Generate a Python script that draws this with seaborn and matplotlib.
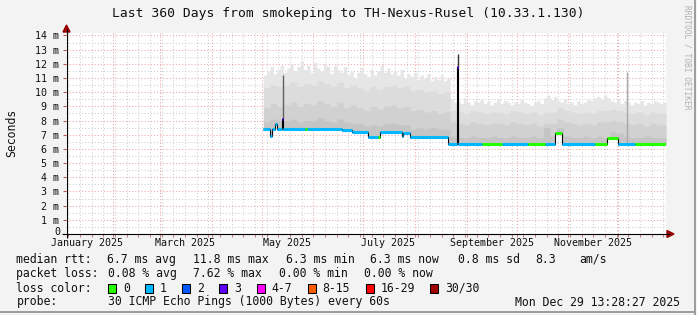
import numpy as np
import pandas as pd
import matplotlib
matplotlib.use("Agg")
import matplotlib.pyplot as plt
import matplotlib.dates as mdates
from matplotlib.lines import Line2D
from matplotlib.patches import Polygon, Rectangle
import seaborn as sns

# ---------------- data ----------------
title = "Last 360 Days from smokeping to TH-Nexus-Rusel (10.33.1.130)"
range_start = pd.Timestamp("2025-01-03 13:28:27")
range_end = pd.Timestamp("2025-12-29 13:28:27")

month_labels = ["January 2025", "March 2025", "May 2025", "July 2025",
                "September 2025", "November 2025"]
month_label_dates = ["2025-01-16", "2025-03-16", "2025-05-16", "2025-07-16",
                     "2025-09-16", "2025-11-16"]

y_ticks = list(range(0, 15))
y_tick_labels = ["0"] + [f"{v} m" for v in range(1, 15)]

# median RTT (ms), piecewise constant segments
seg_start = ["2025-05-02", "2025-05-06", "2025-05-07", "2025-05-09", "2025-05-10",
             "2025-05-13", "2025-05-14", "2025-05-27", "2025-05-28", "2025-06-18",
             "2025-06-24", "2025-07-04", "2025-07-10", "2025-07-11", "2025-07-24",
             "2025-07-25", "2025-07-29", "2025-08-21", "2025-08-26", "2025-08-27",
             "2025-09-10", "2025-09-22", "2025-10-08", "2025-10-18", "2025-10-24",
             "2025-10-28", "2025-11-17", "2025-11-24", "2025-12-01", "2025-12-11"]
seg_median = [7.40, 6.90, 7.40, 7.75, 7.40, 8.10, 7.40, 7.40, 7.40, 7.30,
              7.22, 6.82, 6.82, 7.20, 6.90, 7.15, 6.82, 6.35, 11.80, 6.35,
              6.35, 6.35, 6.35, 6.35, 7.15, 6.35, 6.35, 6.80, 6.35, 6.35]
seg_loss = [1, 1, 1, 1, 1, 3, 1, 0, 1, 1,
            1, 1, 0, 1, 1, 1, 1, 1, 3, 1,
            0, 1, 0, 1, 0, 1, 0, 0, 1, 0]

# smoke top (max ping), 2-day bins starting 2025-05-02 (ms)
smoke_first_bin = "2025-05-02"
smoke_top = [11.2, 11.5, 11.8, 11.3, 11.6, 11.9, 11.4, 11.7, 12.0, 11.5,
             11.8, 12.2, 11.6, 11.9, 11.4, 12.1, 11.7, 11.5, 12.0, 11.8,
             11.3, 11.9, 11.6, 11.4, 11.8, 11.2, 11.5, 11.0, 11.4, 11.7,
             11.3, 11.1, 11.6, 11.2, 11.5, 11.9, 11.4, 11.7, 11.3, 11.5,
             11.2, 11.6, 11.0, 11.3, 11.1, 11.4, 10.9, 11.2, 11.0, 11.3,
             10.8, 11.1, 10.9, 11.2, 10.8, 11.0,
             9.5, 9.3, 9.4, 9.2, 9.6, 9.3, 9.1, 9.4, 9.3, 9.5,
             9.2, 9.4, 9.1, 9.3, 9.5, 9.2, 9.4, 9.3, 9.1, 9.3,
             9.2, 9.5, 9.3, 9.2, 9.0, 9.3, 9.4, 9.2, 9.6, 9.8,
             9.5, 9.7, 9.4, 9.3, 9.5, 9.2, 9.3, 9.1, 9.4, 9.2,
             9.3, 9.5, 9.4, 9.6, 9.7, 9.5, 9.8, 9.6, 9.4, 9.3,
             9.5, 9.2, 9.4, 9.3, 9.1, 9.3, 9.2, 9.4, 9.1, 9.3,
             9.2, 9.4, 9.3, 9.2, 9.3]
# inner smoke layers, 4-day bins starting 2025-05-02 (ms)
smoke_upper = [10.3, 10.5, 10.4, 10.5, 10.7, 10.4, 10.6, 10.5, 10.8, 10.6,
               10.4, 10.7, 10.3, 10.5, 10.3, 10.1, 10.4, 10.2, 10.4, 10.5,
               10.3, 10.4, 10.1, 10.2, 10.0, 10.1, 9.9, 10.0, 8.7, 8.6,
               8.5, 8.7, 8.6, 8.5, 8.6, 8.6, 8.5, 8.7, 8.6, 8.5,
               8.6, 8.4, 8.6, 8.6, 8.9, 8.7, 8.6, 8.5, 8.6, 8.5,
               8.7, 8.7, 8.8, 8.7, 8.6, 8.5, 8.6, 8.4, 8.6, 8.5, 8.5]
smoke_mid = [8.9, 9.2, 9.0, 9.1, 9.3, 9.0, 9.2, 9.1, 9.4, 9.2,
             9.0, 9.3, 8.9, 9.1, 8.9, 8.7, 9.0, 8.8, 9.0, 9.1,
             8.9, 9.0, 8.7, 8.8, 8.6, 8.7, 8.5, 8.6, 7.9, 7.8,
             7.7, 7.9, 7.8, 7.7, 7.8, 7.8, 7.7, 7.9, 7.8, 7.7,
             7.8, 7.6, 7.8, 7.8, 8.1, 7.9, 7.8, 7.7, 7.8, 7.7,
             7.9, 7.9, 8.0, 7.9, 7.8, 7.7, 7.8, 7.6, 7.8, 7.7, 7.7]
smoke_inner = [7.9, 8.1, 8.0, 8.0, 8.1, 7.9, 8.0, 8.0, 8.2, 8.0,
               7.9, 8.1, 7.9, 7.8, 7.8, 7.6, 7.7, 7.6, 7.8, 7.8,
               7.7, 7.7, 7.4, 7.5, 7.4, 7.5, 7.4, 7.4, 6.9, 6.8,
               6.8, 6.9, 6.8, 6.8, 6.9, 6.8, 6.8, 6.9, 6.8, 6.8,
               6.9, 6.8, 7.5, 6.9, 7.5, 6.9, 6.8, 6.8, 6.9, 6.8,
               6.9, 6.8, 7.2, 7.1, 6.9, 6.8, 6.8, 6.9, 6.8, 6.8, 6.8]

# isolated smoke spikes
spike_dates = ["2025-05-13 12:00", "2025-08-26 12:00", "2025-12-06 00:00"]
spike_tops = [11.2, 12.7, 11.4]

loss_labels = ["0", "1", "2", "3", "4-7", "8-15", "16-29", "30/30"]
loss_colors = ["#26ff00", "#00b8ff", "#0059ff", "#5e00ff", "#ff00ff",
               "#ff5e00", "#ff0000", "#a10000"]

legend_row1_items = ["median rtt:", "6.7 ms avg", "11.8 ms max", "6.3 ms min",
                     "6.3 ms now", "0.8 ms sd", "8.3", "am/s"]
legend_row2_items = ["packet loss:", "0.08 % avg", "7.62 % max", "0.00 % min",
                     "0.00 % now"]
legend_row3 = "loss color:"
legend_row4_items = ["probe:", "30 ICMP Echo Pings (1000 Bytes) every 60s"]
timestamp = "Mon Dec 29 13:28:27 2025"

# ---------------- style ----------------
sns.set_theme(style="white")
plt.rcParams["font.family"] = ["DejaVu Sans Mono", "DejaVu Sans"]
plt.rcParams["lines.solid_capstyle"] = "butt"

W, H = 697, 315
def fx(px):
    return px / W
def fy(py):
    return 1 - py / H

BG = "#f3f3f3"
TXT = "#111111"
fig = plt.figure(figsize=(W / 100, H / 100), dpi=100, facecolor=BG)
ax = fig.add_axes([fx(66), fy(234), fx(666) - fx(66), fy(33) - fy(234)])
ax.set_facecolor("white")
for s in ax.spines.values():
    s.set_visible(False)

ax.set_xlim(range_start, range_end)
ax.set_ylim(0, 14.17)

# grid; the "0" label is drawn separately, lifted slightly off the month labels
ax.set_yticks(y_ticks)
ax.set_yticklabels([""] + y_tick_labels[1:], fontsize=7.2, color=TXT)
ax.annotate(y_tick_labels[0], xy=(0, y_ticks[0]), xycoords=("axes fraction", "data"),
            xytext=(-4.3, 1.2), textcoords="offset points", ha="right", va="center",
            fontsize=7.2, color=TXT, annotation_clip=False)
ax.set_yticks(np.arange(0.5, 14.5, 1.0), minor=True)
ax.xaxis.set_major_locator(mdates.MonthLocator())
ax.xaxis.set_minor_locator(mdates.WeekdayLocator(byweekday=mdates.SU))
ax.xaxis.set_major_formatter(plt.NullFormatter())
ax.grid(which="major", color="#f0a4a4", linestyle=(0, (1, 2)), linewidth=0.75)
ax.grid(which="minor", color="#cfcfcf", linestyle=(0, (1, 2)), linewidth=0.75)
ax.tick_params(axis="y", which="major", length=2.5, width=0.75, color="#c05050",
               pad=2.5, left=True)
ax.tick_params(axis="y", which="minor", length=0)
ax.tick_params(axis="x", which="both", length=2, width=0.75, color="#c08080",
               bottom=True)
ax.set_axisbelow(True)

# --- smoke ---
t_fine = pd.date_range(pd.Timestamp(seg_start[0]), range_end, freq="3h")
seg_t = pd.to_datetime(seg_start)
seg_idx = np.searchsorted(seg_t.values, t_fine.values, side="right") - 1
med_fine = np.array(seg_median)[seg_idx]
low = med_fine - 0.08

def layer_on_grid(values, step_days):
    b = pd.date_range(smoke_first_bin, periods=len(values), freq=f"{step_days}D")
    idx = np.clip(np.searchsorted(b.values, t_fine.values, side="right") - 1,
                  0, len(values) - 1)
    return np.maximum(np.array(values)[idx], low)

for vals, step, col in [(smoke_top, 2, "#e6e6e6"), (smoke_upper, 4, "#dcdcdc"),
                        (smoke_mid, 4, "#d1d1d1"), (smoke_inner, 4, "#c5c5c5")]:
    ax.fill_between(t_fine, low, layer_on_grid(vals, step), step="post",
                    color=col, linewidth=0)

spk_t = pd.to_datetime(spike_dates)
spk_base = np.array(seg_median)[np.searchsorted(seg_t.values, spk_t.values, side="right") - 1]
ax.vlines(spk_t, spk_base, spike_tops, colors=["#606060", "#303030", "#a8a8a8"],
          linewidth=1.0)

# --- median line ---
seg_end = list(pd.to_datetime(seg_start[1:])) + [range_end]
xs, ys, rows = [], [], []
for i, (s, e, v, l) in enumerate(zip(pd.to_datetime(seg_start), seg_end, seg_median, seg_loss)):
    xs += [s, e]
    ys += [v, v]
    rows.append({"time": s, "median": v, "seg": i, "loss": loss_labels[l]})
    rows.append({"time": e, "median": v, "seg": i, "loss": loss_labels[l]})
sns.lineplot(x=xs, y=ys, sort=False, estimator=None, color="black",
             linewidth=0.8, ax=ax)
df = pd.DataFrame(rows)
sns.lineplot(data=df, x="time", y="median", hue="loss", units="seg",
             estimator=None, sort=False, legend=False,
             palette=dict(zip(loss_labels, loss_colors)), linewidth=2.2, ax=ax)
ax.set_xlabel("")
ax.set_ylabel("")

# x labels (month names)
for lab, d in zip(month_labels, month_label_dates):
    ax.text(pd.Timestamp(d), -(243.5 - 234) / 201, lab, transform=ax.get_xaxis_transform(),
            ha="center", va="center", fontsize=7.2, color=TXT)

# axes lines + arrows
fig.add_artist(Line2D([fx(62), fx(670)], [fy(234), fy(234)], color="black", lw=0.8))
fig.add_artist(Line2D([fx(66.5), fx(66.5)], [fy(238), fy(29)], color="black", lw=0.8))
arrow_c = "#990000"
fig.add_artist(Polygon([[fx(66.5), fy(25)], [fx(63), fy(32)], [fx(70), fy(32)]],
                       closed=True, color=arrow_c, transform=fig.transFigure))
fig.add_artist(Polygon([[fx(674), fy(234)], [fx(667), fy(230.5)], [fx(667), fy(237.5)]],
                       closed=True, color=arrow_c, transform=fig.transFigure))

# title, unit label, watermark
fig.text(fx(348.5), fy(14), title, ha="center", va="center", fontsize=9.4, color=TXT)
fig.text(fx(12), fy(133), "Seconds", rotation=90, ha="center", va="center",
         fontsize=8.3, color=TXT)
fig.text(fx(687), fy(5), "RRDTOOL / TOBI OETIKER", rotation=270, ha="center", va="top",
         fontsize=5.7, color="#b0b0b0")

# legend
fs = 8.3
row1_x = [16.4, 106.7, 193, 286, 370, 458, 535.6, 579]
row2_x = [16.4, 107.5, 193, 279, 364.5]
row4_x = [16.4, 107.5]
for lab, x in zip(legend_row1_items, row1_x):
    fig.text(fx(x), fy(259.5), lab, ha="left", va="center", fontsize=fs, color=TXT)
for lab, x in zip(legend_row2_items, row2_x):
    fig.text(fx(x), fy(273.5), lab, ha="left", va="center", fontsize=fs, color=TXT)
fig.text(fx(16.4), fy(288), legend_row3, ha="left", va="center", fontsize=fs, color=TXT)
for lab, x in zip(legend_row4_items, row4_x):
    fig.text(fx(x), fy(302), lab, ha="left", va="center", fontsize=fs, color=TXT)
fig.text(fx(680), fy(302), timestamp, ha="right", va="center", fontsize=fs, color=TXT)
cw = 6.94
xb = 108.0
for lab, col in zip(loss_labels, loss_colors):
    fig.add_artist(Rectangle((fx(xb), fy(292.5)), 8 / W, 9 / H, transform=fig.transFigure,
                             facecolor=col, edgecolor="black", linewidth=0.75))
    fig.text(fx(xb + 15), fy(288), lab, ha="left", va="center", fontsize=fs, color=TXT)
    xb = xb + 15 + len(lab) * cw + 15.2

# frame shading
fig.add_artist(Rectangle((fx(694), 0), 2 / W, 1, transform=fig.transFigure,
                         facecolor="#9e9e9e", edgecolor="none"))
fig.add_artist(Rectangle((0, fy(313)), fx(696), 2 / H, transform=fig.transFigure,
                         facecolor="#9e9e9e", edgecolor="none"))

fig.savefig("out.png", dpi=100, facecolor=BG)
